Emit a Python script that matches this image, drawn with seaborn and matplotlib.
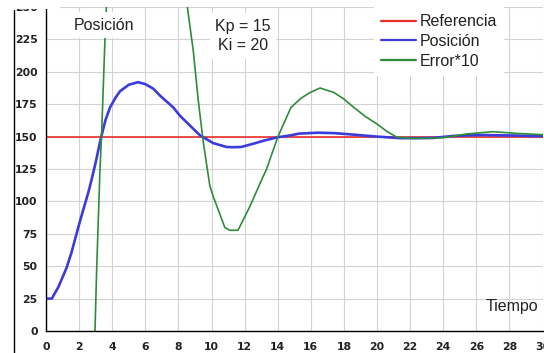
import matplotlib
matplotlib.use("Agg")
import matplotlib.pyplot as plt
from matplotlib.patches import Rectangle
from matplotlib.lines import Line2D
from matplotlib.font_manager import FontProperties
import seaborn as sns

# ---- data ----
ref_t = [0, 30]
ref_v = [150, 150]

pos_t = [0, 0.35, 0.75, 1.25, 1.55, 1.95, 2.15, 2.56, 2.76, 3.0, 3.2, 3.36, 3.6,
         3.87, 4.2, 4.47, 5.0, 5.56, 6.0, 6.48, 6.9, 7.69, 8.1, 8.5, 9.3, 10.1,
         10.9, 11.3, 11.8, 12.5, 13.2, 14.0, 14.7, 15.3, 16.4, 17.4, 18.6, 20.0,
         21.4, 22.4, 23.4, 24.6, 25.5, 26.4, 27.4, 28.4, 30]
pos_v = [25, 25, 34, 49, 61, 80, 89, 107, 117, 130, 142, 151, 163,
         172.5, 180, 185, 190, 192, 190.5, 187, 181.5, 172.5, 166, 161, 151, 145,
         142, 141.8, 142, 144.4, 147, 149.5, 150.8, 152.3, 153, 152.7, 151.5, 150,
         148.8, 148.8, 149, 150.5, 151, 151.2, 151, 150.8, 150.3]

err_t = [2.9, 2.96, 3.06, 3.26, 3.36, 3.56, 3.7, 8.35, 8.5, 8.9, 9.2, 9.5, 9.9,
         10.1, 10.8, 11.1, 11.6, 12.3, 13.1, 13.3, 14.0, 14.8, 15.4, 15.95, 16.56,
         17.4, 18.0, 18.6, 19.3, 20.0, 20.6, 21.2, 22.1, 23.4, 24.2, 25.4, 27.0,
         28.4, 30]
err_v = [-20, 0, 47, 124, 152, 224, 265, 265, 254, 216, 178, 146, 112,
         104, 80, 77.7, 77.7, 95.6, 118.7, 124, 149.5, 172.5, 179.5, 184, 187.5,
         184, 179, 172.5, 165.5, 159.7, 154, 149.5, 148.7, 148.7, 149.5, 152, 153.8,
         152.5, 151.5]

x_ticks = list(range(0, 31, 2))
y_ticks = list(range(0, 251, 25))
series_names = ["Referencia", "Posición", "Error*10"]
series_colors = ["#e8302a", "#3b3bdc", "#2f8c3a"]

# ---- styling ----
sns.set_theme(style="whitegrid")
plt.rcParams["font.family"] = ["Liberation Sans", "DejaVu Sans"]

W, H = 544, 353
fig = plt.figure(figsize=(W / 100, H / 100), dpi=100)
ax = fig.add_axes([46 / W, 1 - 331 / H, (542.5 - 46) / W, (331 - 7) / H])
ax.set_facecolor("white")

sns.lineplot(x=ref_t, y=ref_v, ax=ax, color=series_colors[0], linewidth=1.2,
             label=series_names[0], sort=False, estimator=None)
sns.lineplot(x=pos_t, y=pos_v, ax=ax, color=series_colors[1], linewidth=1.9,
             label=series_names[1], sort=False, estimator=None)
sns.lineplot(x=err_t, y=err_v, ax=ax, color=series_colors[2], linewidth=1.2,
             label=series_names[2], sort=False, estimator=None)

ax.set_xlim(0, 30)
ax.set_ylim(0, 250)
ax.set_xticks(x_ticks)
ax.set_yticks(y_ticks)
ax.set_xlabel("")
ax.set_ylabel("")
ax.grid(True, color="#d2d2d2", linewidth=0.8)
for s in ["top", "right"]:
    ax.spines[s].set_visible(False)
for s in ["left", "bottom"]:
    ax.spines[s].set_visible(True)
    ax.spines[s].set_color("black")
    ax.spines[s].set_linewidth(1.0)

tick_fp = FontProperties(family="DejaVu Sans", weight="bold", size=7.8)
ax.tick_params(axis="both", which="major", length=3, width=0.8, color="black",
               direction="out", pad=3, labelcolor="#222222")
ax.tick_params(axis="x", pad=5)
for lab in ax.get_xticklabels() + ax.get_yticklabels():
    lab.set_fontproperties(tick_fp)

leg = ax.legend(loc="upper left", bbox_to_anchor=((374 - 46) / (542.5 - 46), 1.0),
                frameon=True, fontsize=11.5, handlelength=2.2, handletextpad=0.2,
                labelspacing=0.3, borderpad=0.45, borderaxespad=0.0)
leg.get_frame().set_facecolor("white")
leg.get_frame().set_edgecolor("none")
leg.get_frame().set_alpha(1.0)
leg.get_frame().set_boxstyle("square", pad=0)
for t in leg.get_texts():
    t.set_color("#222222")
for h in leg.get_lines():
    h.set_linewidth(1.6)

box = dict(boxstyle="square,pad=0.35", facecolor="white", edgecolor="none")
tr = ax.get_xaxis_transform()
ax.text(3.5, 1 - (25 - 7) / 324, "Posición", transform=tr,
        ha="center", va="center", fontsize=11.5, color="#222222", bbox=box, zorder=5)
ax.text(11.9, 1 - (36 - 7) / 324, "Kp = 15\nKi = 20", transform=tr,
        ha="center", va="center", fontsize=11.5, color="#222222", bbox=box,
        linespacing=1.35, zorder=5)
ax.text(29.75, 1 - (306 - 7) / 324, "Tiempo", transform=tr,
        ha="right", va="center", fontsize=11.5, color="#222222", zorder=5)

# figure frame line on the left and white cover on the top-left corner
fig.add_artist(Line2D([14 / W, 14 / W], [0, 1 - 10 / H], transform=fig.transFigure,
                      color="black", linewidth=1.0))
fig.add_artist(Rectangle((0, 1 - 9 / H), 60 / W, 9 / H, transform=fig.transFigure,
                         facecolor="white", edgecolor="none", zorder=20))

fig.savefig("out.png", dpi=100)
